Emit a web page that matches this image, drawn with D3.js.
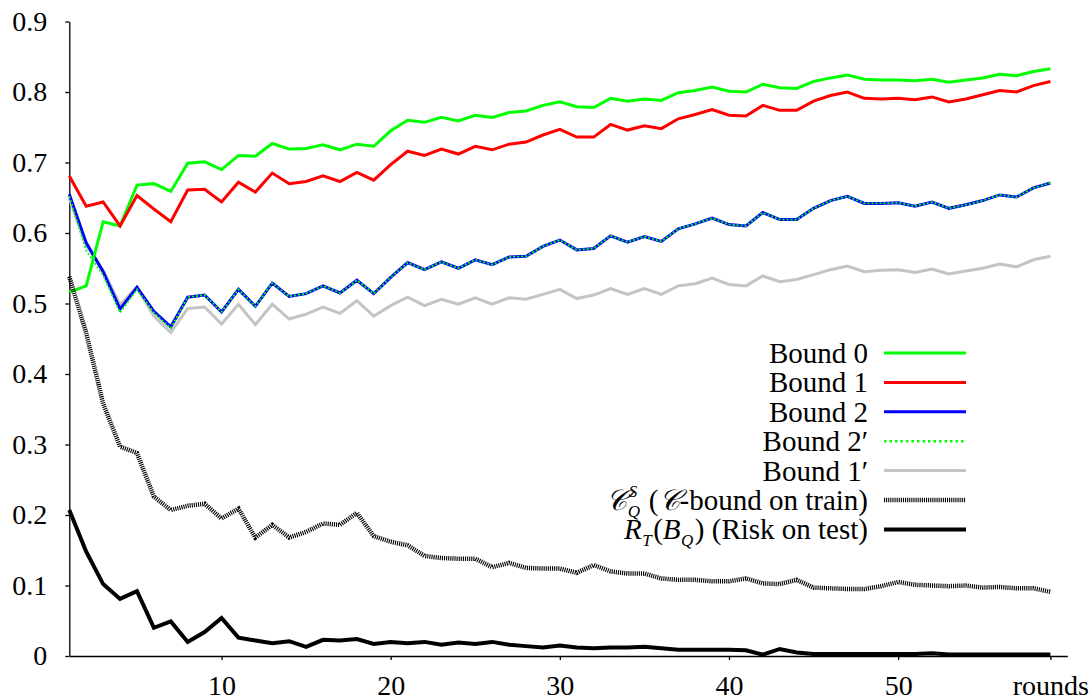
<!DOCTYPE html>
<html>
<head>
<meta charset="utf-8">
<script src="https://cdn.jsdelivr.net/npm/d3@7"></script>
<style>
  html, body { margin: 0; padding: 0; background: #fff; }
  svg { display: block; }
</style>
</head>
<body>
<svg id="chart" width="1092" height="700"></svg>
<script>
const rounds = [1,2,3,4,5,6,7,8,9,10,11,12,13,14,15,16,17,18,19,20,21,22,23,24,25,26,27,28,29,30,31,32,33,34,35,36,37,38,39,40,41,42,43,44,45,46,47,48,49,50,51,52,53,54,55,56,57,58,59];

const bound0 = [0.516,0.525,0.616,0.610,0.668,0.670,0.659,0.699,0.701,0.690,0.710,0.709,0.727,0.719,0.720,0.725,0.718,0.726,0.723,0.745,
  0.760,0.757,0.764,0.759,0.767,0.764,0.771,0.773,0.781,0.786,0.779,0.778,0.791,0.787,0.790,0.788,0.799,0.802,0.807,0.801,
  0.800,0.811,0.806,0.805,0.815,0.820,0.824,0.818,0.817,0.817,0.816,0.818,0.814,0.817,0.820,0.825,0.823,0.829,0.833];

const bound1 = [0.681,0.638,0.644,0.610,0.653,0.634,0.616,0.661,0.662,0.644,0.672,0.658,0.685,0.670,0.673,0.681,0.673,0.686,0.675,0.697,
  0.716,0.710,0.719,0.712,0.723,0.718,0.726,0.729,0.739,0.747,0.736,0.736,0.754,0.746,0.752,0.748,0.762,0.768,0.775,0.767,
  0.766,0.781,0.774,0.774,0.787,0.795,0.800,0.791,0.790,0.791,0.789,0.793,0.786,0.790,0.796,0.802,0.800,0.809,0.815];

const bound2 = [0.655,0.586,0.545,0.492,0.523,0.489,0.467,0.509,0.512,0.488,0.520,0.496,0.529,0.510,0.514,0.525,0.515,0.533,0.514,0.537,
  0.558,0.548,0.559,0.550,0.562,0.555,0.566,0.567,0.581,0.590,0.576,0.578,0.596,0.587,0.595,0.588,0.606,0.613,0.621,0.612,
  0.610,0.629,0.619,0.619,0.635,0.646,0.652,0.642,0.642,0.643,0.638,0.644,0.635,0.640,0.646,0.654,0.651,0.664,0.671];

const bound2p = [0.652,0.575,0.540,0.487,0.520,0.487,0.465,0.509,0.512,0.488,0.520,0.496,0.529,0.510,0.514,0.525,0.515,0.533,0.514,0.537,
  0.558,0.548,0.559,0.550,0.562,0.555,0.566,0.567,0.581,0.590,0.576,0.578,0.596,0.587,0.595,0.588,0.606,0.613,0.621,0.612,
  0.610,0.629,0.619,0.619,0.635,0.646,0.652,0.642,0.642,0.643,0.638,0.644,0.635,0.640,0.646,0.654,0.651,0.664,0.671];

const bound1p = [0.649,0.583,0.547,0.498,0.523,0.482,0.459,0.493,0.495,0.471,0.499,0.470,0.499,0.478,0.485,0.495,0.486,0.504,0.482,0.497,
  0.509,0.497,0.506,0.499,0.508,0.499,0.508,0.506,0.513,0.520,0.507,0.512,0.521,0.513,0.521,0.513,0.525,0.528,0.536,0.527,
  0.525,0.539,0.531,0.534,0.541,0.548,0.553,0.545,0.547,0.548,0.544,0.549,0.542,0.546,0.550,0.556,0.552,0.562,0.567];

const cBoundTrain = [0.538,0.458,0.358,0.297,0.288,0.226,0.207,0.213,0.216,0.195,0.209,0.168,0.186,0.168,0.176,0.188,0.186,0.203,0.170,0.162,
  0.157,0.142,0.139,0.138,0.138,0.126,0.132,0.125,0.124,0.124,0.118,0.129,0.120,0.117,0.117,0.110,0.108,0.108,0.106,0.106,
  0.110,0.103,0.102,0.108,0.097,0.096,0.095,0.095,0.099,0.105,0.101,0.100,0.099,0.100,0.097,0.098,0.096,0.096,0.091];

const riskTest = [0.207,0.148,0.102,0.081,0.092,0.040,0.049,0.020,0.034,0.054,0.026,0.022,0.018,0.021,0.013,0.023,0.022,0.024,0.017,0.020,
  0.018,0.020,0.016,0.019,0.017,0.020,0.016,0.014,0.012,0.015,0.012,0.011,0.012,0.012,0.013,0.011,0.009,0.009,0.009,0.009,
  0.008,0.002,0.010,0.005,0.003,0.003,0.003,0.003,0.003,0.003,0.003,0.004,0.002,0.002,0.002,0.002,0.002,0.002,0.002];

const yTicks = [0,0.1,0.2,0.3,0.4,0.5,0.6,0.7,0.8,0.9];
const xTicks = [10,20,30,40,50,59];
const xTickLabels = ["10","20","30","40","50","rounds"];

const FONT = '"Liberation Serif", "DejaVu Serif", serif';

const svg = d3.select("#chart");
const x = d3.scaleLinear().domain([1, 60]).range([69.3, 1067.3]);
const y = d3.scaleLinear().domain([0, 0.9]).range([656, 21.5]);

// Axes
const yAxis = d3.axisLeft(y).tickValues(yTicks).tickSize(4).tickSizeOuter(0).tickPadding(18)
  .tickFormat(d => d === 0 ? "0" : d.toFixed(1));
const gy = svg.append("g").attr("transform", `translate(${x(1)},0)`).call(yAxis);

const xAxis = d3.axisBottom(x).tickValues(xTicks).tickSize(4).tickSizeOuter(0).tickPadding(15)
  .tickFormat((d, i) => xTickLabels[i]);
const gx = svg.append("g").attr("transform", `translate(0,${y(0)})`).call(xAxis);

[gx, gy].forEach(g => {
  g.attr("font-family", FONT).attr("font-size", 28);
  g.selectAll("path.domain").attr("stroke", "#000").attr("stroke-width", 1.3);
  g.selectAll(".tick line").attr("stroke", "#000").attr("stroke-width", 1.3);
  g.selectAll("text").style("font-family", FONT).style("font-size", "28px").attr("fill", "#000");
});

const line = d3.line().x((d, i) => x(rounds[i])).y(d => y(d));

const series = [
  {key: "b1p", data: bound1p, color: "#c4c4c4", width: 3},
  {key: "b2", data: bound2, color: "#0000ff", width: 3},
  {key: "b2p", data: bound2p, color: "#00ff00", width: 1.8, dash: "2,2"},
  {key: "b0", data: bound0, color: "#00ff00", width: 3},
  {key: "b1", data: bound1, color: "#ff0000", width: 3},
  {key: "cb", data: cBoundTrain, color: "#000000", width: 4.5, dash: "1.1,1"},
  {key: "rt", data: riskTest, color: "#000000", width: 4}
];

series.forEach(s => {
  svg.append("path")
    .datum(s.data)
    .attr("fill", "none")
    .attr("stroke", s.color)
    .attr("stroke-width", s.width)
    .attr("stroke-linejoin", "miter")
    .attr("stroke-dasharray", s.dash || null)
    .attr("d", line);
});

// Legend
const legendRight = 868;
const lineX0 = 884, lineX1 = 966;
const rowY0 = 353, rowStep = 29.4;
const FS = 29, SS = 17;

const legendItems = [
  {color: "#00ff00", width: 3, runs: [{t: "Bound 0"}]},
  {color: "#ff0000", width: 3, runs: [{t: "Bound 1"}]},
  {color: "#0000ff", width: 3, runs: [{t: "Bound 2"}]},
  {color: "#00ff00", width: 2.5, dash: "2.5,3", runs: [{t: "Bound 2\u2032"}]},
  {color: "#c4c4c4", width: 3, runs: [{t: "Bound 1\u2032"}]},
  {color: "#000000", width: 4.5, dash: "1.1,1", runs: [
    {t: "\uD835\uDC9E", it: true},
    {script: true, sup: "S", sub: "Q"},
    {t: "\u00A0(", it: false},
    {t: "\uD835\uDC9E", it: true},
    {t: "-bound on train)"}
  ]},
  {color: "#000000", width: 4, runs: [
    {t: "R", it: true},
    {script: true, sub: "T"},
    {t: "("},
    {t: "B", it: true},
    {script: true, sub: "Q"},
    {t: ")\u00A0(Risk on test)"}
  ]}
];

legendItems.forEach((item, i) => {
  const cy = rowY0 + i * rowStep;
  const g = svg.append("g");
  let cx = 0;
  const base = 10;
  const mk = (xx, yy, size, ital, txt) => g.append("text")
      .attr("x", xx).attr("y", yy)
      .style("font-family", FONT).style("font-size", size + "px")
      .style("font-style", ital ? "italic" : "normal").attr("fill", "#000").text(txt);
  item.runs.forEach(r => {
    if (r.script) {
      let w = 0;
      if (r.sup) {
        const ts = mk(cx + 1.5, base - 13, SS, true, r.sup);
        w = Math.max(w, ts.node().getComputedTextLength() + 1.5);
      }
      if (r.sub) {
        const tb = mk(cx + 0.5, base + 7, SS, true, r.sub);
        w = Math.max(w, tb.node().getComputedTextLength() + 0.5);
      }
      cx += w + 1.5;
    } else {
      const t = mk(cx, base, FS, r.it, r.t);
      cx += t.node().getComputedTextLength();
    }
  });
  g.attr("transform", `translate(${legendRight - cx},${cy})`);

  svg.append("line")
    .attr("x1", lineX0).attr("x2", lineX1)
    .attr("y1", cy).attr("y2", cy)
    .attr("stroke", item.color)
    .attr("stroke-width", item.width)
    .attr("stroke-dasharray", item.dash || null);
});
</script>
</body>
</html>
